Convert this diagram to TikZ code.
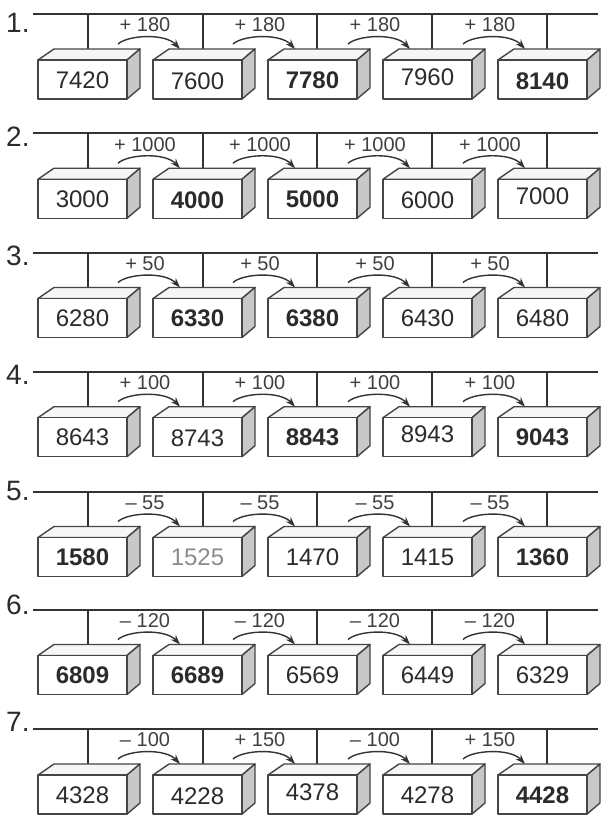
\documentclass[tikz,border=0pt]{standalone}
\usepackage{fontspec}
\setmainfont{Liberation Sans}
\usetikzlibrary{arrows.meta}
\definecolor{ink}{HTML}{333333}
\definecolor{edgec}{HTML}{454545}
\definecolor{sidef}{HTML}{C8C8C8}
\definecolor{topf}{HTML}{F6F6F6}
\definecolor{numc}{HTML}{2B2B2B}
\definecolor{pale}{HTML}{8C8C8C}
\definecolor{lblc}{HTML}{404040}
\tikzset{
  rail/.style={draw=ink,line width=2pt},
  facef/.style={draw=edgec,line width=1.4pt,line join=round,fill=white},
  topface/.style={facef,fill=topf},
  sideface/.style={facef,fill=sidef},
  val/.style={text=numc,font=\fontsize{24}{24}\selectfont,inner sep=0pt},
  valb/.style={val,font=\fontsize{24}{24}\selectfont\bfseries},
  valg/.style={val,text=pale},
  hoplbl/.style={text=lblc,font=\fontsize{20}{20}\selectfont,inner sep=0pt},
  rownum/.style={text=numc,font=\fontsize{28}{28}\selectfont,inner sep=0pt,anchor=west},
  hoparrow/.style={draw=ink,line width=1.4pt,-{Stealth[length=10pt,width=7pt]}},
}
\newcommand\rowframe[3]{%
  \node[rownum] (n#1) at (6,#3) {#1.};
  \coordinate (la#1) at (33,#2);
  \coordinate (lb#1) at (598,#2);
  \draw[rail] (la#1) -- (lb#1);
}
\newcommand\cube[6]{%
  \pgfmathsetmacro\cubx{38+115*#2}%
  \pgfmathsetmacro\cuby{#3}%
  \coordinate (p#1#2) at ({88+114.7*#2},\cuby);
  \coordinate (q#1#2) at ({88+114.7*#2},{\cuby+35});
  \draw[rail] (p#1#2) -- (q#1#2);
  \filldraw[topface] (\cubx,{\cuby+46}) -- ({\cubx+16},{\cuby+35}) -- ({\cubx+102},{\cuby+35}) -- ({\cubx+89},{\cuby+46}) -- cycle;
  \filldraw[sideface] ({\cubx+89},{\cuby+46}) -- ({\cubx+102},{\cuby+35}) -- ({\cubx+102},{\cuby+74}) -- ({\cubx+89},{\cuby+85}) -- cycle;
  \filldraw[facef] (\cubx,{\cuby+46}) rectangle ({\cubx+89},{\cuby+85});
  \node[#4] (c#1#2) at ({\cubx+44.5},{\cuby+66+(#6)}) {#5};
}
\newcommand\hop[4]{%
  \pgfmathsetmacro\cubx{38+115*#2}%
  \pgfmathsetmacro\cuby{#3}%
  \coordinate (hs#1#2) at ({\cubx+80},{\cuby+30});
  \coordinate (he#1#2) at ({\cubx+142},{\cuby+35});
  \draw[hoparrow] (hs#1#2) .. controls ({\cubx+90},{\cuby+21}) and ({\cubx+127},{\cuby+19}) .. (he#1#2);
  \node[hoplbl] (h#1#2) at ({145+115*#2},{\cuby+11}) {#4};
}
\begin{document}
\begin{tikzpicture}[x=1pt,y=-1pt]
\useasboundingbox (0,0) rectangle (600,816);
\fill[white] (0,0) rectangle (600,816);

% Row 1
\rowframe{1}{14}{23}
\cube{1}{0}{14}{val}{7420}{0}
\cube{1}{1}{14}{val}{7600}{1}
\cube{1}{2}{14}{valb}{7780}{0}
\cube{1}{3}{14}{val}{7960}{-3}
\cube{1}{4}{14}{valb}{8140}{1}
\hop{1}{0}{14}{+ 180}
\hop{1}{1}{14}{+ 180}
\hop{1}{2}{14}{+ 180}
\hop{1}{3}{14}{+ 180}

% Row 2
\rowframe{2}{133.2}{137}
\cube{2}{0}{133.2}{val}{3000}{0}
\cube{2}{1}{133.2}{valb}{4000}{1}
\cube{2}{2}{133.2}{valb}{5000}{0}
\cube{2}{3}{133.2}{val}{6000}{1}
\cube{2}{4}{133.2}{val}{7000}{-3}
\hop{2}{0}{133.2}{+ 1000}
\hop{2}{1}{133.2}{+ 1000}
\hop{2}{2}{133.2}{+ 1000}
\hop{2}{3}{133.2}{+ 1000}

% Row 3
\rowframe{3}{252.5}{256}
\cube{3}{0}{252.5}{val}{6280}{0}
\cube{3}{1}{252.5}{valb}{6330}{0}
\cube{3}{2}{252.5}{valb}{6380}{0}
\cube{3}{3}{252.5}{val}{6430}{0}
\cube{3}{4}{252.5}{val}{6480}{0}
\hop{3}{0}{252.5}{+ 50}
\hop{3}{1}{252.5}{+ 50}
\hop{3}{2}{252.5}{+ 50}
\hop{3}{3}{252.5}{+ 50}

% Row 4
\rowframe{4}{371.7}{375}
\cube{4}{0}{371.7}{val}{8643}{0}
\cube{4}{1}{371.7}{val}{8743}{1}
\cube{4}{2}{371.7}{valb}{8843}{0}
\cube{4}{3}{371.7}{val}{8943}{-3}
\cube{4}{4}{371.7}{valb}{9043}{0}
\hop{4}{0}{371.7}{+ 100}
\hop{4}{1}{371.7}{+ 100}
\hop{4}{2}{371.7}{+ 100}
\hop{4}{3}{371.7}{+ 100}

% Row 5
\rowframe{5}{491.5}{491}
\cube{5}{0}{491.5}{valb}{1580}{0}
\cube{5}{1}{491.5}{valg}{1525}{0}
\cube{5}{2}{491.5}{val}{1470}{0}
\cube{5}{3}{491.5}{val}{1415}{0}
\cube{5}{4}{491.5}{valb}{1360}{0}
\hop{5}{0}{491.5}{– 55}
\hop{5}{1}{491.5}{– 55}
\hop{5}{2}{491.5}{– 55}
\hop{5}{3}{491.5}{– 55}

% Row 6
\rowframe{6}{609.5}{605}
\cube{6}{0}{609.5}{valb}{6809}{0}
\cube{6}{1}{609.5}{valb}{6689}{0}
\cube{6}{2}{609.5}{val}{6569}{0}
\cube{6}{3}{609.5}{val}{6449}{0}
\cube{6}{4}{609.5}{val}{6329}{0}
\hop{6}{0}{609.5}{– 120}
\hop{6}{1}{609.5}{– 120}
\hop{6}{2}{609.5}{– 120}
\hop{6}{3}{609.5}{– 120}

% Row 7
\rowframe{7}{729}{722}
\cube{7}{0}{729}{val}{4328}{0}
\cube{7}{1}{729}{val}{4228}{1}
\cube{7}{2}{729}{val}{4378}{-3}
\cube{7}{3}{729}{val}{4278}{0}
\cube{7}{4}{729}{valb}{4428}{0}
\hop{7}{0}{729}{– 100}
\hop{7}{1}{729}{+ 150}
\hop{7}{2}{729}{– 100}
\hop{7}{3}{729}{+ 150}
\end{tikzpicture}
\end{document}
